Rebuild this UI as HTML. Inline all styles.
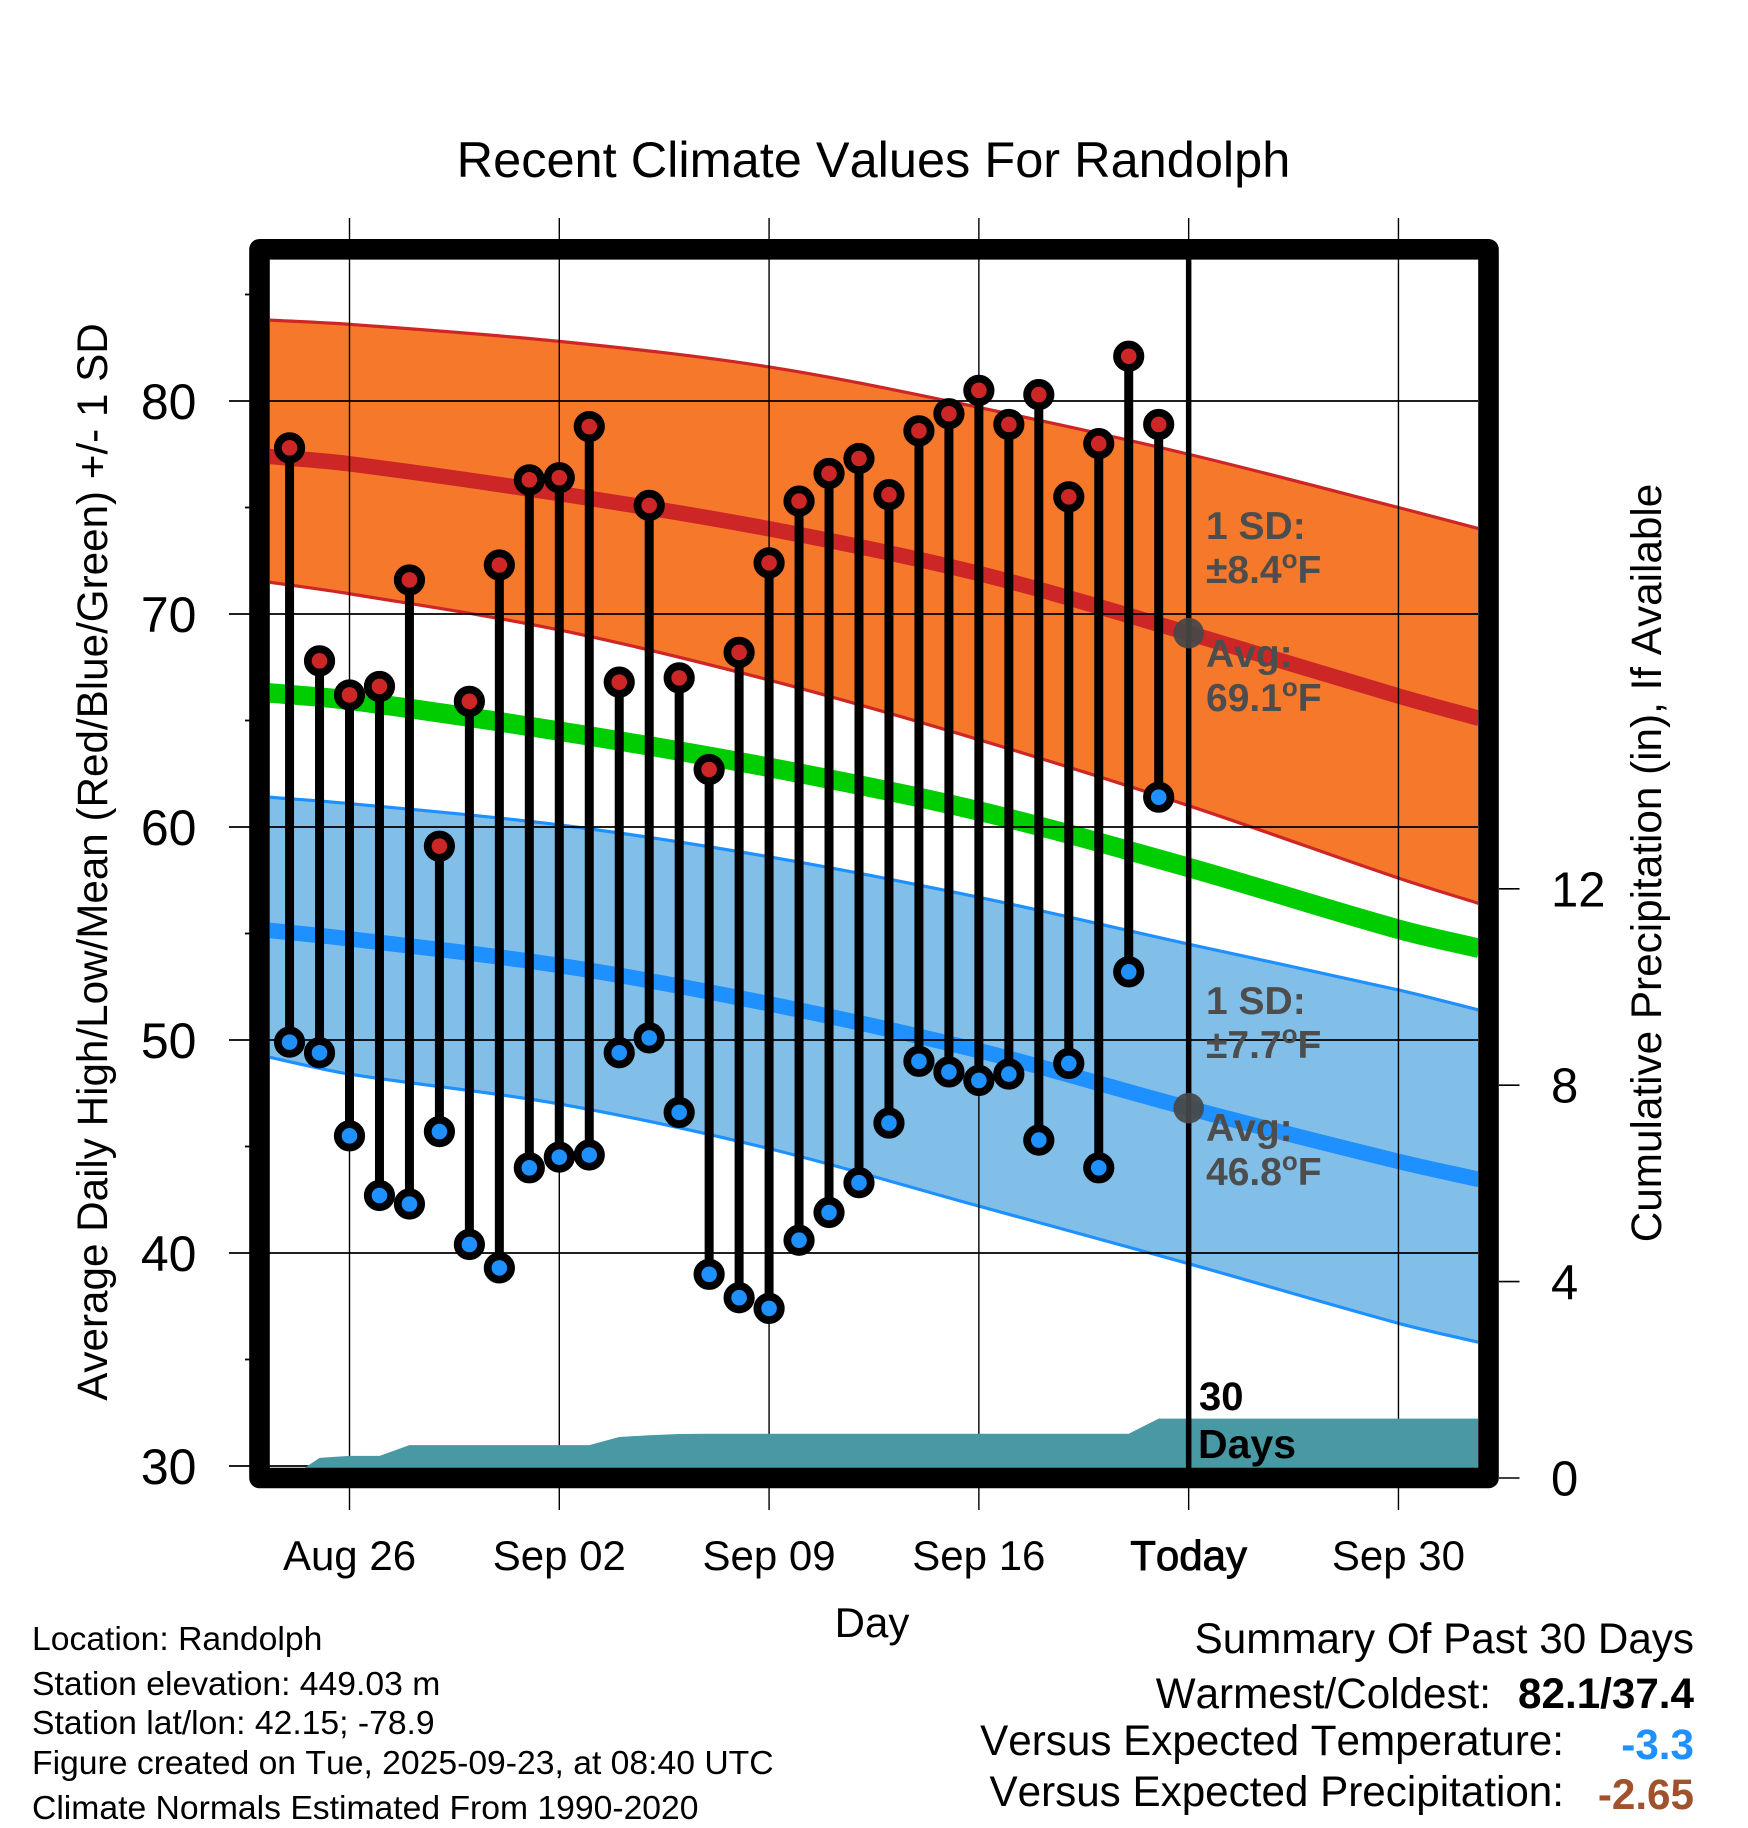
<!DOCTYPE html>
<html lang="en">
<head>
<meta charset="utf-8">
<title>Recent Climate Values For Randolph</title>
<style>
html,body{margin:0;padding:0;background:#fff;}
svg{display:block;font-family:"Liberation Sans",Arial,sans-serif;}
svg text{font-kerning:none;}
</style>
</head>
<body>
<svg id="chart" xmlns="http://www.w3.org/2000/svg" width="1748" height="1828" viewBox="0 0 1748 1828">
  <rect x="0" y="0" width="1748" height="1828" fill="#fff"/>
  <g id="plot"></g>
  <g id="axes" fill="#000"></g>

  <text x="873.5" y="177" font-size="50.5" text-anchor="middle">Recent Climate Values For Randolph</text>
  <text transform="translate(107,862) rotate(-90)" font-size="42.2" text-anchor="middle">Average Daily High/Low/Mean (Red/Blue/Green) +/- 1 SD</text>
  <text transform="translate(1661,863) rotate(-90)" font-size="42.25" text-anchor="middle">Cumulative Precipitation (in), If Available</text>
  <text x="872" y="1637" font-size="42" text-anchor="middle">Day</text>

  <g font-size="39" font-weight="bold" fill="#4d4d4d">
    <text x="1206" y="539">1 SD:</text>
    <text x="1206" y="583">±8.4<tspan dy="-15" font-size="26">o</tspan><tspan dy="15">F</tspan></text>
    <text x="1206" y="667">Avg:</text>
    <text x="1206" y="711">69.1<tspan dy="-15" font-size="26">o</tspan><tspan dy="15">F</tspan></text>
  </g>
  <g font-size="39" font-weight="bold" fill="#4d4d4d">
    <text x="1206" y="1014">1 SD:</text>
    <text x="1206" y="1058">±7.7<tspan dy="-15" font-size="26">o</tspan><tspan dy="15">F</tspan></text>
    <text x="1206" y="1141">Avg:</text>
    <text x="1206" y="1185">46.8<tspan dy="-15" font-size="26">o</tspan><tspan dy="15">F</tspan></text>
  </g>
  <text x="1199" y="1410" font-size="40" font-weight="bold">30</text>
  <text x="1198" y="1458" font-size="41" font-weight="bold">Days</text>

  <g font-size="33.7">
    <text x="32" y="1650">Location: Randolph</text>
    <text x="32" y="1695">Station elevation: 449.03 m</text>
    <text x="32" y="1734">Station lat/lon: 42.15; -78.9</text>
    <text x="32" y="1774">Figure created on Tue, 2025-09-23, at 08:40 UTC</text>
    <text x="32" y="1819">Climate Normals Estimated From 1990-2020</text>
  </g>

  <g font-size="42.2">
    <text x="1694" y="1653" text-anchor="end">Summary Of Past 30 Days</text>
    <text x="1491" y="1708" text-anchor="end">Warmest/Coldest:</text>
    <text x="1694" y="1708" text-anchor="end" font-weight="bold">82.1/37.4</text>
    <text x="1564" y="1755" text-anchor="end">Versus Expected Temperature:</text>
    <text x="1694" y="1759" text-anchor="end" font-weight="bold" fill="#1e90ff">-3.3</text>
    <text x="1564" y="1806" text-anchor="end">Versus Expected Precipitation:</text>
    <text x="1694" y="1809" text-anchor="end" font-weight="bold" fill="#a0522d">-2.65</text>
  </g>
</svg>
<script>
// Observed daily values: first entry is Aug 24, offsets are days from Aug 26
var obsStartDay = -2;
var obsHighs = [77.8,67.8,66.2,66.6,71.6,59.1,65.9,72.3,76.3,76.4,78.8,66.8,75.1,67.0,62.7,68.2,72.4,75.3,76.6,77.3,75.6,78.6,79.4,80.5,78.9,80.3,75.5,78.0,82.1,78.9];
var obsLows = [49.9,49.4,45.5,42.7,42.3,45.7,40.4,39.3,44.0,44.5,44.6,49.4,50.1,46.6,39.0,37.9,37.4,40.6,41.9,43.3,46.1,49.0,48.5,48.1,48.4,45.3,48.9,44.0,53.2,61.4];
var precipTotals = [0,0.41,0.45,0.45,0.67,0.67,0.67,0.67,0.67,0.67,0.67,0.835,0.87,0.895,0.90,0.90,0.90,0.90,0.90,0.90,0.90,0.90,0.90,0.90,0.90,0.90,0.90,0.90,0.90,1.21];

// Climate normals, sampled at these day offsets from Aug 26
var normalDays = [-2.7,0,7,14,21,28,35,37.7];
var highUpper = [83.8,83.6,82.8,81.6,79.7,77.5,75.0,74.0];
var highMean = [77.4,77.05,75.65,74.0,71.9,69.1,66.15,65.1];
var highLower = [71.5,70.95,69.25,66.9,64.1,61.0,57.6,56.4];
var meanMean = [66.3,65.95,64.5,62.8,60.75,58.1,55.2,54.3];
var lowUpper = [61.4,61.1,60.1,58.6,56.7,54.5,52.35,51.4];
var lowMean = [55.15,54.75,53.5,51.7,49.5,46.8,44.3,43.45];
var lowLower = [49.2,48.4,47.0,44.9,42.2,39.5,36.7,35.8];

// Axes
var xTickDays = [0,7,14,21,28,35];
var xTickLabels = ["Aug 26","Sep 02","Sep 09","Sep 16","Today","Sep 30"];
var yMajorTicks = [30,40,50,60,70,80];
var yMinorTicks = [35,45,55,65,75,85];
var precipTicks = [0,4,8,12];
var todayDay = 28;
var todayHighMean = 69.1;
var todayLowMean = 46.8;

var X0 = 349.5, XK = 29.97;
var Y80 = 401, YK = 21.3;
var P0 = 1478, PK = 49.1;
var LEFT = 270, RIGHT = 1478, TOP = 259.5, BOTTOM = 1468;

function xScale(d){ return X0 + XK * d; }
function yScale(t){ return Y80 + (80 - t) * YK; }
function pScale(p){ return P0 - PK * p; }

var NS = "http://www.w3.org/2000/svg";
var plot = document.getElementById("plot");
var axes = document.getElementById("axes");

function make(tag, parent, attrs){
  var el = document.createElementNS(NS, tag);
  for (var k in attrs) el.setAttribute(k, attrs[k]);
  parent.appendChild(el);
  return el;
}
function fmt(n){ return n.toFixed(2); }
// Smooth (Catmull-Rom) path through the sampled values, scaled for uneven spacing
function curveSegments(days, vals){
  var pts = days.map(function(d, i){ return [xScale(d), yScale(vals[i])]; });
  var s = "";
  function slope(a, b){ return (b[1] - a[1]) / (b[0] - a[0]); }
  for (var i = 0; i < pts.length - 1; i++){
    var p0 = pts[Math.max(i - 1, 0)], p1 = pts[i], p2 = pts[i + 1], p3 = pts[Math.min(i + 2, pts.length - 1)];
    var h = (p2[0] - p1[0]) / 3;
    var m1 = slope(p0, p2), m2 = slope(p1, p3);
    s += "C" + fmt(p1[0] + h) + " " + fmt(p1[1] + m1 * h) + " " + fmt(p2[0] - h) + " " + fmt(p2[1] - m2 * h) + " " + fmt(p2[0]) + " " + fmt(p2[1]);
  }
  return s;
}
function linePath(days, vals){
  return "M" + fmt(xScale(days[0])) + " " + fmt(yScale(vals[0])) + curveSegments(days, vals);
}
function bandPath(days, up, low){
  var rd = days.slice().reverse(), rl = low.slice().reverse();
  return linePath(days, up) + "L" + fmt(xScale(rd[0])) + " " + fmt(yScale(rl[0])) + curveSegments(rd, rl) + "Z";
}

var defs = make("defs", plot, {});
var clip = make("clipPath", defs, {id:"plot-clip"});
make("rect", clip, {x:LEFT, y:TOP, width:RIGHT-LEFT, height:BOTTOM-TOP});
var inner = make("g", plot, {"clip-path":"url(#plot-clip)"});



// Bands
var el;
el = make("path", inner, {d:bandPath(normalDays, highUpper, highLower), fill:"#f6782b"});


el = make("path", inner, {d:bandPath(normalDays, lowUpper, lowLower), fill:"#82bfe8"});



// Band edges
el = make("path", inner, {d:linePath(normalDays, highUpper), fill:"none", stroke:"#cd2626", "stroke-width":3.2});


el = make("path", inner, {d:linePath(normalDays, highLower), fill:"none", stroke:"#cd2626", "stroke-width":3.2});


el = make("path", inner, {d:linePath(normalDays, lowUpper), fill:"none", stroke:"#1e90ff", "stroke-width":3.2});


el = make("path", inner, {d:linePath(normalDays, lowLower), fill:"none", stroke:"#1e90ff", "stroke-width":3.2});



// Mean lines
el = make("path", inner, {d:linePath(normalDays, highMean), fill:"none", stroke:"#cd2626", "stroke-width":15.5});


el = make("path", inner, {d:linePath(normalDays, meanMean), fill:"none", stroke:"#00cd00", "stroke-width":19.5});


el = make("path", inner, {d:linePath(normalDays, lowMean), fill:"none", stroke:"#1e90ff", "stroke-width":15.5});



// Grid
xTickDays.forEach(function(d){
  var g = make("line", plot, {x1:xScale(d), x2:xScale(d), y1:218, y2:1510, stroke:"#000", "stroke-width":1.4});
  
  
});
yMajorTicks.forEach(function(t){
  var g = make("line", plot, {x1:229, x2:RIGHT, y1:yScale(t), y2:yScale(t), stroke:"#000", "stroke-width":1.8});
  
  
});

// Precipitation area
var pd = "M" + fmt(xScale(obsStartDay)) + " " + BOTTOM;
precipTotals.forEach(function(p, i){
  pd += "L" + fmt(xScale(obsStartDay + i)) + " " + fmt(pScale(p));
});
pd += "L" + RIGHT + " " + fmt(pScale(precipTotals[precipTotals.length - 1])) + "L" + RIGHT + " " + BOTTOM + "Z";
var plotInner2 = make("g", plot, {"clip-path":"url(#plot-clip)"});


el = make("path", plotInner2, {d:pd, fill:"#4899a3"});



// Daily stems and markers
obsHighs.forEach(function(h, i){
  var x = xScale(obsStartDay + i);
  var stem = make("line", plot, {x1:x, x2:x, y1:yScale(h), y2:yScale(obsLows[i]), stroke:"#000", "stroke-width":9});
  
  
});
obsHighs.forEach(function(h, i){
  var x = xScale(obsStartDay + i);
  var hi = make("circle", plot, {cx:x, cy:yScale(h), r:11.7, fill:"#cd2626", stroke:"#000", "stroke-width":7.8});
  
  
  var lo = make("circle", plot, {cx:x, cy:yScale(obsLows[i]), r:11.7, fill:"#1e90ff", stroke:"#000", "stroke-width":7.8});
  
  
});

// Today line and mean dots
el = make("line", plot, {x1:xScale(todayDay), x2:xScale(todayDay), y1:TOP, y2:BOTTOM, stroke:"#000", "stroke-width":5.5});


el = make("circle", plot, {cx:xScale(todayDay), cy:yScale(todayHighMean), r:15.3, fill:"#474747", "fill-opacity":0.93});


el = make("circle", plot, {cx:xScale(todayDay), cy:yScale(todayLowMean), r:15.3, fill:"#474747", "fill-opacity":0.93});



// Frame
el = make("rect", plot, {x:259.5, y:249.3, width:1229, height:1228.7, fill:"none", stroke:"#000", "stroke-width":20.6, "stroke-linejoin":"round"});



// Axis tick labels and ticks
xTickDays.forEach(function(d, i){
  var t = make("text", axes, {x:xScale(d), y:1570, "font-size":42, "text-anchor":"middle"});
  t.textContent = xTickLabels[i];
  if (xTickLabels[i] === "Today") { t.setAttribute("stroke", "#000"); t.setAttribute("stroke-width", "0.9"); }
  
  
});
yMajorTicks.forEach(function(v){
  var t = make("text", axes, {x:196.5, y:yScale(v) + 18, "font-size":50, "text-anchor":"end"});
  t.textContent = String(v);
  
  
});
yMinorTicks.forEach(function(v){
  var m = make("line", axes, {x1:245, x2:250, y1:yScale(v), y2:yScale(v), stroke:"#000", "stroke-width":1.8});
  
  
});
precipTicks.forEach(function(v){
  var m = make("line", axes, {x1:1499, x2:1519.5, y1:pScale(v), y2:pScale(v), stroke:"#000", "stroke-width":1.6});
  
  
  var t = make("text", axes, {x:1551, y:pScale(v) + 17.5, "font-size":49});
  t.textContent = String(v);
  
  
});
</script>
</body>
</html>
